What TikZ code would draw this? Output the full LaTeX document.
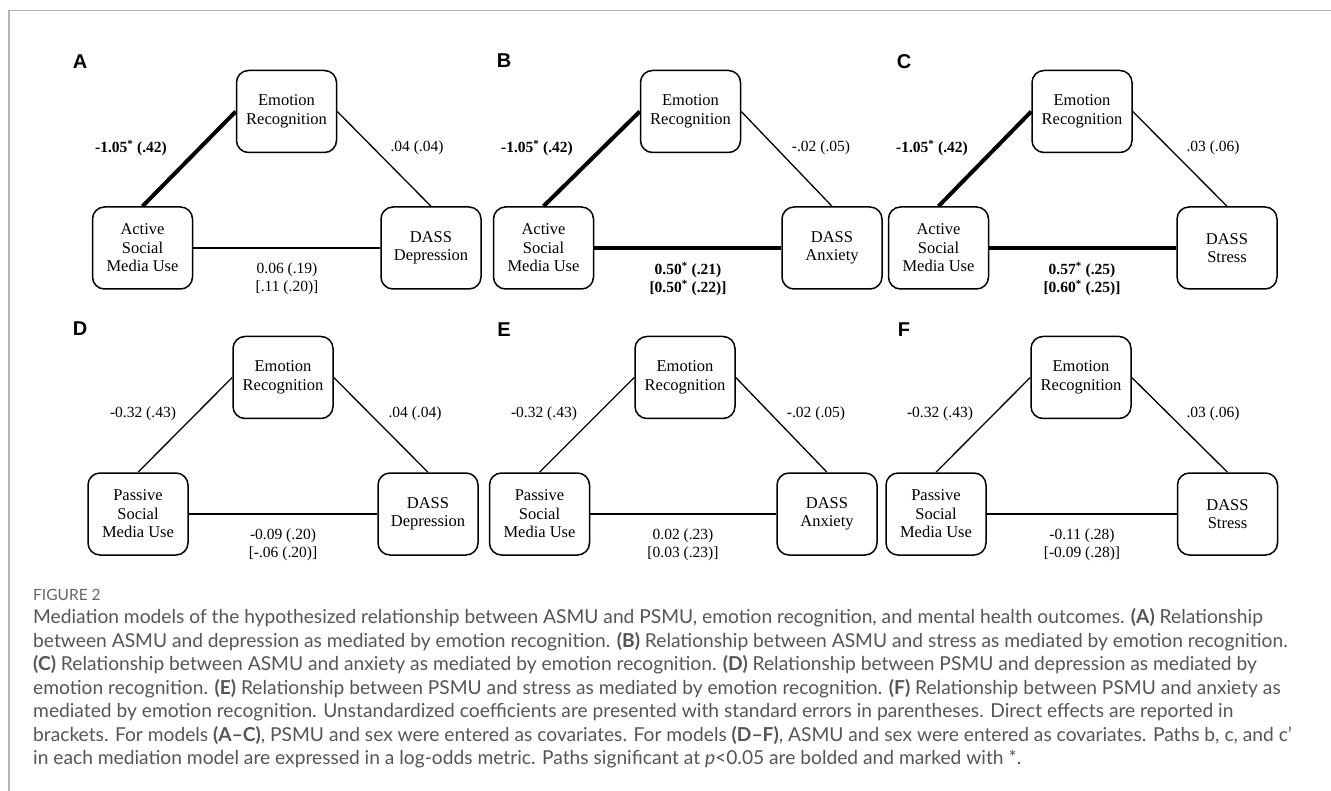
\documentclass[tikz,border=0pt]{standalone}
\usepackage{fontspec}
\setmainfont{Liberation Serif}
\newfontfamily\letterfont{Liberation Sans}
\newfontfamily\capfont[Ligatures=TeX]{Lato}
\definecolor{framegray}{HTML}{B4B4B4}
\definecolor{capgray}{HTML}{555555}
\definecolor{figgray}{HTML}{666666}
\begin{document}
\begin{tikzpicture}[x=1pt,y=-1pt,
  mbox/.style={draw, rounded corners=12pt, line width=1.5pt, minimum width=100pt, minimum height=82pt, inner sep=0pt, align=center, font=\fontsize{16.5}{18.5}\selectfont},
  thinpath/.style={line width=1.3pt},
  thickpath/.style={line width=4pt},
  lbl/.style={inner sep=0pt, align=center, font=\fontsize{15.5}{18}\selectfont},
  blbl/.style={lbl, font=\fontsize{15.5}{18}\selectfont\bfseries},
  letter/.style={inner sep=0pt, font=\fontsize{20}{22}\selectfont\letterfont\bfseries},
  capline/.style={inner sep=0pt, anchor=west, text=capgray, font=\fontsize{19.2}{23}\selectfont\capfont}
]
\useasboundingbox (0,0) rectangle (1331,791);
\draw[framegray, line width=1.5pt] (9,791) -- (9,10.5) -- (1331,10.5);

% ---------- Panel A ----------
\node[letter] (LA) at (80,62) {A};
\node[mbox] (eA) at (286.5,111.5) {Emotion\\Recognition};
\node[mbox] (aA) at (142.5,248) {Active\\Social\\Media Use};
\node[mbox] (dA) at (431,248) {DASS\\Depression};
\draw[thickpath] (aA.north) -- (eA.west);
\draw[thinpath] (eA.east) -- (dA.north);
\draw[thinpath] (aA.east) -- (dA.west);
\node[blbl] (la1) at (131,148) {-1.05\textsuperscript{*} (.42)};
\node[lbl] (la2) at (417,148) {.04 (.04)};
\node[lbl] (la3) at (287,279) {0.06 (.19)\\{}[.11 (.20)]};

% ---------- Panel B ----------
\node[letter] (LB) at (504,61) {B};
\node[mbox] (eB) at (690.5,111.5) {Emotion\\Recognition};
\node[mbox] (aB) at (543.5,248) {Active\\Social\\Media Use};
\node[mbox] (dB) at (832,248) {DASS\\Anxiety};
\draw[thickpath] (aB.north) -- (eB.west);
\draw[thinpath] (eB.east) -- (dB.north);
\draw[thickpath] (aB.east) -- (dB.west);
\node[blbl] (lb1) at (537,148) {-1.05\textsuperscript{*} (.42)};
\node[lbl] (lb2) at (821,148) {-.02 (.05)};
\node[blbl] (lb3) at (688,279) {0.50\textsuperscript{*} (.21)\\{}[0.50\textsuperscript{*} (.22)]};

% ---------- Panel C ----------
\node[letter] (LC) at (904,62) {C};
\node[mbox] (eC) at (1082,111.5) {Emotion\\Recognition};
\node[mbox] (aC) at (938.5,248) {Active\\Social\\Media Use};
\node[mbox] (dC) at (1227,248) {DASS\\Stress};
\draw[thickpath] (aC.north) -- (eC.west);
\draw[thinpath] (eC.east) -- (dC.north);
\draw[thickpath] (aC.east) -- (dC.west);
\node[blbl] (lc1) at (932,148) {-1.05\textsuperscript{*} (.42)};
\node[lbl] (lc2) at (1213,148) {.03 (.06)};
\node[blbl] (lc3) at (1082,279) {0.57\textsuperscript{*} (.25)\\{}[0.60\textsuperscript{*} (.25)]};

% ---------- Panel D ----------
\node[letter] (LD) at (80,329) {D};
\node[mbox] (eD) at (283,377.5) {Emotion\\Recognition};
\node[mbox] (aD) at (138,514) {Passive\\Social\\Media Use};
\node[mbox] (dD) at (428,514) {DASS\\Depression};
\draw[thinpath] (aD.north) -- (eD.west);
\draw[thinpath] (eD.east) -- (dD.north);
\draw[thinpath] (aD.east) -- (dD.west);
\node[lbl] (ld1) at (143,414) {-0.32 (.43)};
\node[lbl] (ld2) at (415,414) {.04 (.04)};
\node[lbl] (ld3) at (283,545) {-0.09 (.20)\\{}[-.06 (.20)]};

% ---------- Panel E ----------
\node[letter] (LE) at (504,330) {E};
\node[mbox] (eE) at (685,377.5) {Emotion\\Recognition};
\node[mbox] (aE) at (539.5,514) {Passive\\Social\\Media Use};
\node[mbox] (dE) at (827,514) {DASS\\Anxiety};
\draw[thinpath] (aE.north) -- (eE.west);
\draw[thinpath] (eE.east) -- (dE.north);
\draw[thinpath] (aE.east) -- (dE.west);
\node[lbl] (le1) at (544,414) {-0.32 (.43)};
\node[lbl] (le2) at (816,414) {-.02 (.05)};
\node[lbl] (le3) at (683,545) {0.02 (.23)\\{}[0.03 (.23)]};

% ---------- Panel F ----------
\node[letter] (LF) at (904,330) {F};
\node[mbox] (eF) at (1081,377.5) {Emotion\\Recognition};
\node[mbox] (aF) at (936,514) {Passive\\Social\\Media Use};
\node[mbox] (dF) at (1227.5,514) {DASS\\Stress};
\draw[thinpath] (aF.north) -- (eF.west);
\draw[thinpath] (eF.east) -- (dF.north);
\draw[thinpath] (aF.east) -- (dF.west);
\node[lbl] (lf1) at (940,414) {-0.32 (.43)};
\node[lbl] (lf2) at (1213,414) {.03 (.06)};
\node[lbl] (lf3) at (1082,545) {-0.11 (.28)\\{}[-0.09 (.28)]};

% ---------- Caption ----------
\node[capline, text=figgray, font=\fontsize{15.5}{18}\selectfont\capfont] (fig) at (33,595) {FIGURE 2};
\node[capline] (c1) at (33,618) {Mediation models of the hypothesized relationship between ASMU and PSMU, emotion recognition, and mental health outcomes. \textbf{(A)} Relationship};
\node[capline] (c2) at (33,641.5) {between ASMU and depression as mediated by emotion recognition. \textbf{(B)} Relationship between ASMU and stress as mediated by emotion recognition.};
\node[capline] (c3) at (33,665) {\textbf{(C)} Relationship between ASMU and anxiety as mediated by emotion recognition. \textbf{(D)} Relationship between PSMU and depression as mediated by};
\node[capline] (c4) at (33,688.5) {emotion recognition. \textbf{(E)} Relationship between PSMU and stress as mediated by emotion recognition. \textbf{(F)} Relationship between PSMU and anxiety as};
\node[capline] (c5) at (33,712) {mediated by emotion recognition. Unstandardized coefficients are presented with standard errors in parentheses. Direct effects are reported in};
\node[capline] (c6) at (33,735.5) {brackets. For models \textbf{(A–C)}, PSMU and sex were entered as covariates. For models \textbf{(D–F)}, ASMU and sex were entered as covariates. Paths b, c, and c\textquoteright};
\node[capline] (c7) at (33,759) {in each mediation model are expressed in a log-odds metric. Paths significant at \textit{p}<0.05 are bolded and marked with *.};
\end{tikzpicture}
\end{document}
